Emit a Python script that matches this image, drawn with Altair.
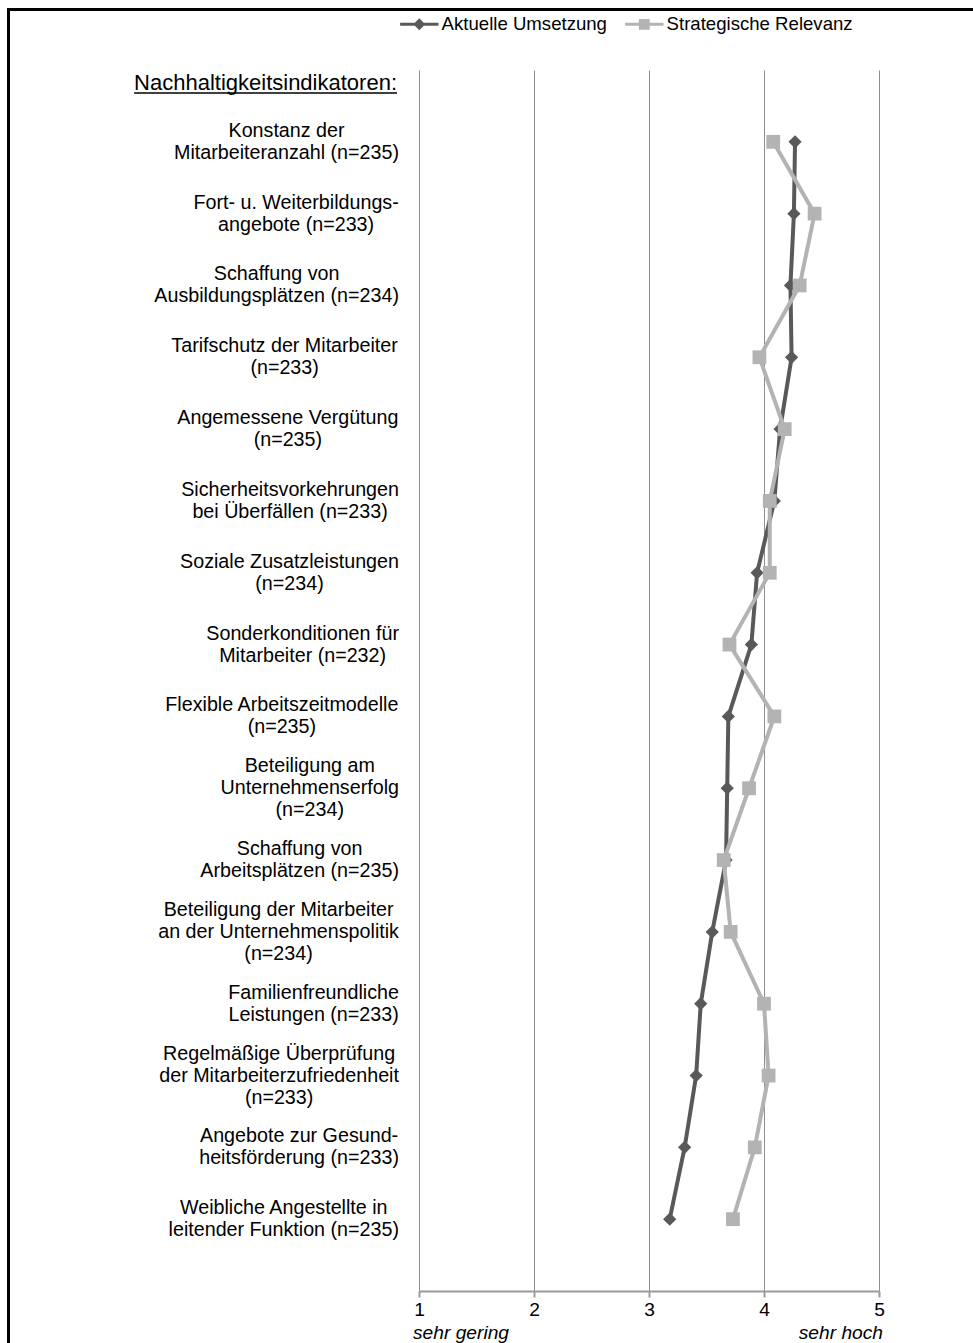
import altair as alt
import pandas as pd

# ---------------- data ----------------
indicators = [
    "Konstanz der\nMitarbeiteranzahl (n=235)",
    "Fort- u. Weiterbildungs-\nangebote (n=233)",
    "Schaffung von\nAusbildungsplätzen (n=234)",
    "Tarifschutz der Mitarbeiter\n(n=233)",
    "Angemessene Vergütung\n(n=235)",
    "Sicherheitsvorkehrungen\nbei Überfällen (n=233)",
    "Soziale Zusatzleistungen\n(n=234)",
    "Sonderkonditionen für\nMitarbeiter (n=232)",
    "Flexible Arbeitszeitmodelle\n(n=235)",
    "Beteiligung am\nUnternehmenserfolg\n(n=234)",
    "Schaffung von\nArbeitsplätzen (n=235)",
    "Beteiligung der Mitarbeiter\nan der Unternehmenspolitik\n(n=234)",
    "Familienfreundliche\nLeistungen (n=233)",
    "Regelmäßige Überprüfung\nder Mitarbeiterzufriedenheit\n(n=233)",
    "Angebote zur Gesund-\nheitsförderung (n=233)",
    "Weibliche Angestellte in\nleitender Funktion (n=235)",
]
aktuelle = [4.27, 4.26, 4.23, 4.24, 4.14, 4.09, 3.94, 3.89, 3.69, 3.68,
            3.67, 3.55, 3.45, 3.41, 3.31, 3.18]
strategische = [4.08, 4.44, 4.31, 3.96, 4.18, 4.05, 4.05, 3.70, 4.09, 3.87,
                3.65, 3.71, 4.00, 4.04, 3.92, 3.73]
series_names = ["Aktuelle Umsetzung", "Strategische Relevanz"]
series_colors = ["#595959", "#b3b3b3"]
header_text = ["Nachhaltigkeitsindikatoren:"]
x_ticks = [1, 2, 3, 4, 5]
scale_low = ["sehr gering"]
scale_high = ["sehr hoch"]

# ---------------- layout / style ----------------
FONT = "Liberation Sans"
W, H = 460, 1221
PAD = {"left": 419, "top": 70, "right": 973 - 419 - W, "bottom": 1343 - 70 - H}
UNIT_X = W / 4.0
UNIT_Y = H / 17.0
LABEL_SIZE = 19.7
AXIS_SIZE = 19.2
LINE_H = 22
LABEL_GAP = 20  # px between label block and plot left edge

ARIAL = {' ': 278, '(': 333, ')': 333, '-': 333, '.': 278, ':': 278, '=': 584}
ARIAL.update({d: 556 for d in "0123456789"})
ARIAL.update(dict(zip("ABCDEFGHIJKLMNOPQRSTUVWXYZ",
                      [667, 667, 722, 722, 667, 611, 778, 722, 278, 500, 667, 556, 833,
                       722, 778, 667, 778, 722, 667, 611, 722, 667, 944, 667, 667, 611])))
ARIAL.update(dict(zip("abcdefghijklmnopqrstuvwxyz",
                      [556, 556, 500, 556, 556, 278, 556, 556, 222, 222, 500, 222, 833,
                       556, 556, 556, 556, 333, 500, 278, 556, 500, 722, 500, 500, 500])))
ARIAL.update({'ä': 556, 'ö': 556, 'ü': 556, 'ß': 611, 'Ü': 722})


def text_width(s, size):
    return sum(ARIAL.get(c, 556) for c in s) / 1000.0 * size


rows = list(range(1, len(indicators) + 1))
long_rows = []
for r, a, s in zip(rows, aktuelle, strategische):
    long_rows.append({"row": r, "value": a, "series": series_names[0]})
    long_rows.append({"row": r, "value": s, "series": series_names[1]})
df = pd.DataFrame(long_rows)

# one text datum per label line; each block centred on its row, lines centred in block
label_rows = []
for r, lab in zip(rows, indicators):
    lines = lab.split("\n")
    w = max(text_width(line, LABEL_SIZE) for line in lines)
    xc = 1 + (-LABEL_GAP - w / 2.0) / UNIT_X
    n = len(lines)
    for k, line in enumerate(lines):
        yl = r + (k - (n - 1) / 2.0) * LINE_H / UNIT_Y
        label_rows.append({"row": r, "line": line, "xc": xc, "yl": yl})
labels_df = pd.DataFrame(label_rows)

xscale = alt.Scale(domain=[1, 5], nice=False, zero=False)
yscale = alt.Scale(domain=[0, 17], nice=False, zero=False, reverse=True)
cscale = alt.Scale(domain=series_names, range=series_colors)

x_axis = alt.Axis(values=x_ticks, title=None, grid=True, gridColor="#8f8f8f",
                  gridWidth=1, domainColor="#9a9a9a", domainWidth=2,
                  tickColor="#9a9a9a", tickWidth=2, tickSize=6,
                  labelFont=FONT, labelFontSize=AXIS_SIZE, labelColor="black",
                  labelPadding=3, labelFlush=False, format="d")


def X(field):
    return alt.X(field, scale=xscale, axis=x_axis)


def Y(field):
    return alt.Y(field, scale=yscale, axis=None)


def series_layer(name, shape, size):
    base = alt.Chart(df).transform_filter(alt.datum.series == name)
    line = base.mark_line(strokeWidth=4).encode(
        x=X("value:Q"), y=Y("row:Q"),
        order=alt.Order("row:Q"),
        color=alt.Color("series:N", scale=cscale, legend=None),
    )
    pts = base.mark_point(filled=True, opacity=1, shape=shape, size=size).encode(
        x=X("value:Q"), y=Y("row:Q"),
        color=alt.Color("series:N", scale=cscale, legend=None),
    )
    return [line, pts]


path_a = ("M-3.2,-0.25L3.2,-0.25L3.2,0.25L-3.2,0.25Z"
          "M0,-1L1,0L0,1L-1,0Z")
path_s = ("M-3.2,-0.25L3.2,-0.25L3.2,0.25L-3.2,0.25Z"
          "M-0.9,-0.9L0.9,-0.9L0.9,0.9L-0.9,0.9Z")

leg = alt.Legend(orient="none", legendX=-9, legendY=-55, direction="horizontal",
                 title=None, labelFont=FONT, labelFontSize=18.6, labelColor="black",
                 symbolSize=144, symbolStrokeWidth=0, labelOffset=13,
                 columnPadding=18, padding=0, labelLimit=400, symbolOpacity=1)

legend_layer = alt.Chart(df).transform_filter("false").mark_point(filled=True, opacity=1).encode(
    x=X("value:Q"), y=Y("row:Q"),
    color=alt.Color("series:N", scale=cscale, legend=leg),
    shape=alt.Shape("series:N", scale=alt.Scale(domain=series_names, range=[path_a, path_s]),
                    legend=leg),
)

labels = alt.Chart(labels_df).mark_text(
    align="center", baseline="middle", font=FONT, fontSize=LABEL_SIZE, color="black"
).encode(
    x=X("xc:Q"), y=Y("yl:Q"), text="line:N",
)

hdr_size = 22
hdr_w = text_width(header_text[0], hdr_size)
header = alt.Chart(pd.DataFrame({"t": header_text})).mark_text(
    align="right", baseline="middle", font=FONT, fontSize=hdr_size, color="black"
).encode(x=alt.value(-22), y=alt.value(13), text="t:N")
underline = alt.Chart(pd.DataFrame({"t": header_text})).mark_rule(
    color="black", strokeWidth=1.5
).encode(x=alt.value(-22 - hdr_w), x2=alt.value(-22), y=alt.value(23))

low = alt.Chart(pd.DataFrame({"t": scale_low})).mark_text(
    align="left", baseline="alphabetic", font=FONT, fontSize=AXIS_SIZE,
    fontStyle="italic", color="black", dx=-6
).encode(x=alt.datum(1, scale=xscale, axis=x_axis), y=alt.value(H + 48), text="t:N")
high = alt.Chart(pd.DataFrame({"t": scale_high})).mark_text(
    align="right", baseline="alphabetic", font=FONT, fontSize=AXIS_SIZE,
    fontStyle="italic", color="black", dx=4
).encode(x=alt.datum(5, scale=xscale, axis=x_axis), y=alt.value(H + 48), text="t:N")

frame_df = pd.DataFrame({"t": [0]})
border_top = alt.Chart(frame_df).mark_rule(color="black", strokeWidth=3).encode(
    x=alt.value(-PAD["left"] + 7), x2=alt.value(W + PAD["right"]), y=alt.value(-60.5))
border_left = alt.Chart(frame_df).mark_rule(color="black", strokeWidth=3).encode(
    x=alt.value(-PAD["left"] + 8.5), y=alt.value(-62), y2=alt.value(H + PAD["bottom"]))

layers = (series_layer(series_names[0], "diamond", 175)
          + series_layer(series_names[1], "square", 190))

chart = alt.layer(
    legend_layer, *layers, labels, header, underline, low, high, border_top, border_left
).properties(
    width=W, height=H,
    autosize=alt.AutoSizeParams(type="none"),
    padding=PAD,
    background="white",
).configure_view(stroke=None)

chart.save("out.html", embed_options={"renderer": "svg", "actions": False})
